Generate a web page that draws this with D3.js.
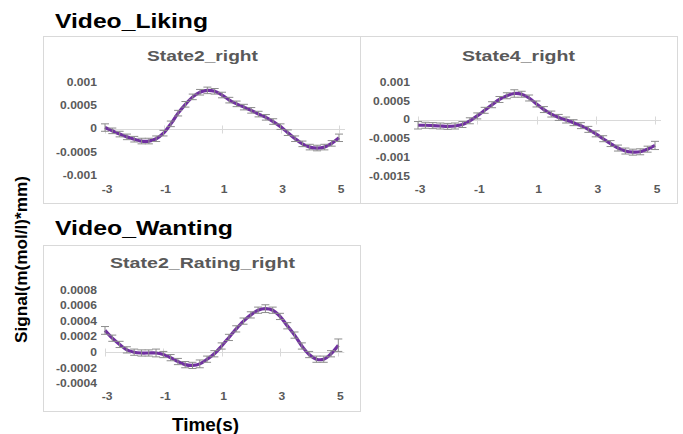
<!DOCTYPE html>
<html>
<head>
<meta charset="utf-8">
<script src="https://cdn.jsdelivr.net/npm/d3@7"></script>
<style>
  body { margin: 0; background: #fff; }
  text { font-family: "Liberation Sans", Arial, sans-serif; }
</style>
</head>
<body>
<div id="chart"></div>
<script>
// Data
var times = [-3, -2.75, -2.5, -2.25, -2, -1.75, -1.5, -1.25, -1, -0.75, -0.5, -0.25,
  0, 0.25, 0.5, 0.75, 1, 1.25, 1.5, 1.75, 2, 2.25, 2.5, 2.75,
  3, 3.25, 3.5, 3.75, 4, 4.25, 4.5, 4.75, 5];

var state2Right = [0.00002, -0.00005, -0.00012, -0.00018, -0.00023, -0.00027, -0.00027, -0.00022,
  -0.0001, 0.0001, 0.00033, 0.00052, 0.00068, 0.00078, 0.00082, 0.0008,
  0.00072, 0.00061, 0.00053, 0.00046, 0.00039, 0.00031, 0.00024, 0.00015,
  0.00004, -0.00009, -0.00022, -0.00033, -0.0004, -0.00042, -0.0004, -0.00032, -0.0002];
var state2RightErr = [0.00008, 0.00006, 0.00006, 0.00006, 0.00006, 0.00006, 0.00006, 0.00006,
  0.00006, 0.00006, 0.00006, 0.00006, 0.00006, 0.00006, 0.00007, 0.00006,
  0.00006, 0.00006, 0.00006, 0.00006, 0.00006, 0.00006, 0.00006, 0.00006,
  0.00006, 0.00006, 0.00006, 0.00006, 0.00006, 0.00006, 0.00006, 0.00006, 0.00008];

var state4Right = [-0.00015, -0.00015, -0.00016, -0.00017, -0.00018, -0.00017, -0.00013, -0.00003,
  0.0001, 0.00025, 0.0004, 0.00054, 0.00064, 0.0007, 0.00068, 0.00058,
  0.00042, 0.00027, 0.00015, 0.00006, -0.00001, -0.00008, -0.00016, -0.00026,
  -0.00038, -0.00051, -0.00064, -0.00076, -0.00084, -0.00087, -0.00086, -0.00079, -0.00069];
var state4RightErr = [0.0001, 0.00008, 0.00008, 0.00008, 0.00008, 0.00008, 0.00008, 0.00008,
  0.00008, 0.00008, 0.00008, 0.00008, 0.00008, 0.0001, 0.00008, 0.00008,
  0.00008, 0.00008, 0.00008, 0.00008, 0.00008, 0.00008, 0.00008, 0.00008,
  0.00008, 0.00008, 0.00008, 0.00008, 0.00008, 0.00008, 0.00008, 0.00008, 0.00011];

var state2RatingRight = [0.00028, 0.00018, 0.0001, 0.00003, 0.0, -0.00001, -0.00001, -0.00001,
  -0.00003, -0.00007, -0.00012, -0.00016, -0.00017, -0.00015, -0.00009, -0.00002,
  0.00008, 0.00019, 0.0003, 0.0004, 0.00048, 0.00054, 0.00056, 0.00054,
  0.00046, 0.00034, 0.00022, 0.00008, -0.00003, -0.00009, -0.00009, -0.00002, 0.00009];
var state2RatingRightErr = [0.00005, 0.00004, 0.00004, 0.00004, 0.00004, 0.00004, 0.00004, 0.00005,
  0.00004, 0.00004, 0.00004, 0.00004, 0.00004, 0.00005, 0.00004, 0.00004,
  0.00004, 0.00004, 0.00004, 0.00004, 0.00004, 0.00004, 0.00005, 0.00004,
  0.00004, 0.00004, 0.00004, 0.00004, 0.00004, 0.00004, 0.00004, 0.00004, 0.00008];

var xTicks = [-3, -1, 1, 3, 5];
var yTicksLiking2 = [0.001, 0.0005, 0, -0.0005, -0.001];
var yTicksLiking4 = [0.001, 0.0005, 0, -0.0005, -0.001, -0.0015];
var yTicksWanting = [0.0008, 0.0006, 0.0004, 0.0002, 0, -0.0002, -0.0004];

var svgWidth = 683;
var svgHeight = 434;
var stretch = 1.15;

var svg = d3.select("#chart")
  .append("svg")
  .attr("width", svgWidth)
  .attr("height", svgHeight);

// Text helper: the reference glyphs are a little wider than normal
function label(g, x, y, str, size, anchor, color, bold) {
  return g.append("text")
    .attr("transform", `translate(${x}, ${y}) scale(${stretch}, 1)`)
    .attr("text-anchor", anchor)
    .attr("font-size", size)
    .attr("font-weight", bold ? "bold" : "normal")
    .attr("fill", color)
    .text(str);
}

var panels = [
  { title: "State2_right", titleW: 111, titleX: 202.5, values: state2Right, errs: state2RightErr, ticks: yTicksLiking2,
    box: [43.5, 36.5, 317, 167], xr: [105, 339], yd: [-0.001, 0.001], yr: [175, 82], titleY: 61, xLabY: 193 },
  { title: "State4_right", titleW: 113, titleX: 518.5, values: state4Right, errs: state4RightErr, ticks: yTicksLiking4,
    box: [360.5, 36.5, 317, 167], xr: [418, 655], yd: [-0.0015, 0.001], yr: [175.7, 82.3], titleY: 61, xLabY: 193 },
  { title: "State2_Rating_right", titleW: 185, titleX: 202.5, values: state2RatingRight, errs: state2RatingRightErr, ticks: yTicksWanting,
    box: [43.5, 245.5, 317, 166], xr: [105, 338.3], yd: [-0.0004, 0.0008], yr: [383.3, 290], titleY: 268, xLabY: 400 }
];

panels.forEach(function(p) {
  var g = svg.append("g");

  g.append("rect")
    .attr("x", p.box[0]).attr("y", p.box[1])
    .attr("width", p.box[2]).attr("height", p.box[3])
    .attr("fill", "#fff")
    .attr("stroke", "#d9d9d9");

  var x = d3.scaleLinear().domain([-3, 5]).range(p.xr);
  var y = d3.scaleLinear().domain(p.yd).range(p.yr);

  g.append("text")
    .attr("x", p.titleX - p.titleW / 2).attr("y", p.titleY)
    .attr("font-size", 15.5).attr("font-weight", "bold")
    .attr("fill", "#595959")
    .attr("textLength", p.titleW).attr("lengthAdjust", "spacingAndGlyphs")
    .text(p.title);

  // y tick labels
  p.ticks.forEach(function(t) {
    label(g, p.xr[0] - 8, y(t) + 3.8, String(t), 10.5, "end", "#595959", true);
  });

  // zero axis line with small ticks
  var y0 = Math.round(y(0)) + 0.5;
  g.append("line")
    .attr("x1", p.xr[0]).attr("x2", p.xr[1] + 6)
    .attr("y1", y0).attr("y2", y0)
    .attr("stroke", "#d9d9d9");
  g.selectAll(".tick")
    .data(xTicks)
    .enter()
    .append("line")
    .attr("x1", d => Math.round(x(d)) + 0.5)
    .attr("x2", d => Math.round(x(d)) + 0.5)
    .attr("y1", y0 - 4).attr("y2", y0 + 4)
    .attr("stroke", "#d9d9d9");

  xTicks.forEach(function(t) {
    label(g, x(t) + 2, p.xLabY, String(t), 10.5, "middle", "#595959", true);
  });

  var pts = times.map((t, i) => ({ t: t, v: p.values[i], e: p.errs[i] }));

  g.append("path")
    .datum(pts)
    .attr("fill", "none")
    .attr("stroke", "#7030a0")
    .attr("stroke-width", 3.2)
    .attr("d", d3.line().x(d => x(d.t)).y(d => y(d.v)).curve(d3.curveCatmullRom));

  // error bars on top of the line
  var eb = g.append("g").attr("stroke", "#8c8c8c").attr("stroke-width", 1);
  eb.selectAll(".v").data(pts).enter().append("line")
    .attr("x1", d => x(d.t)).attr("x2", d => x(d.t))
    .attr("y1", d => y(d.v + d.e)).attr("y2", d => y(d.v - d.e));
  eb.selectAll(".top").data(pts).enter().append("line")
    .attr("x1", d => x(d.t) - 4).attr("x2", d => x(d.t) + 4)
    .attr("y1", d => y(d.v + d.e)).attr("y2", d => y(d.v + d.e));
  eb.selectAll(".bot").data(pts).enter().append("line")
    .attr("x1", d => x(d.t) - 4).attr("x2", d => x(d.t) + 4)
    .attr("y1", d => y(d.v - d.e)).attr("y2", d => y(d.v - d.e));
});

// Group headings and shared axis titles
svg.append("text")
  .attr("x", 55).attr("y", 28)
  .attr("font-size", 21).attr("font-weight", "bold")
  .attr("textLength", 153).attr("lengthAdjust", "spacingAndGlyphs")
  .text("Video_Liking");

svg.append("text")
  .attr("x", 55).attr("y", 235)
  .attr("font-size", 21).attr("font-weight", "bold")
  .attr("textLength", 178).attr("lengthAdjust", "spacingAndGlyphs")
  .text("Video_Wanting");

svg.append("text")
  .attr("x", 172).attr("y", 431)
  .attr("font-size", 18).attr("font-weight", "bold")
  .attr("textLength", 67).attr("lengthAdjust", "spacingAndGlyphs")
  .text("Time(s)");

svg.append("text")
  .attr("transform", "translate(27, 343) rotate(-90)")
  .attr("font-size", 16).attr("font-weight", "bold")
  .attr("textLength", 167).attr("lengthAdjust", "spacingAndGlyphs")
  .text("Signal(m(mol/l)*mm)");
</script>
</body>
</html>
